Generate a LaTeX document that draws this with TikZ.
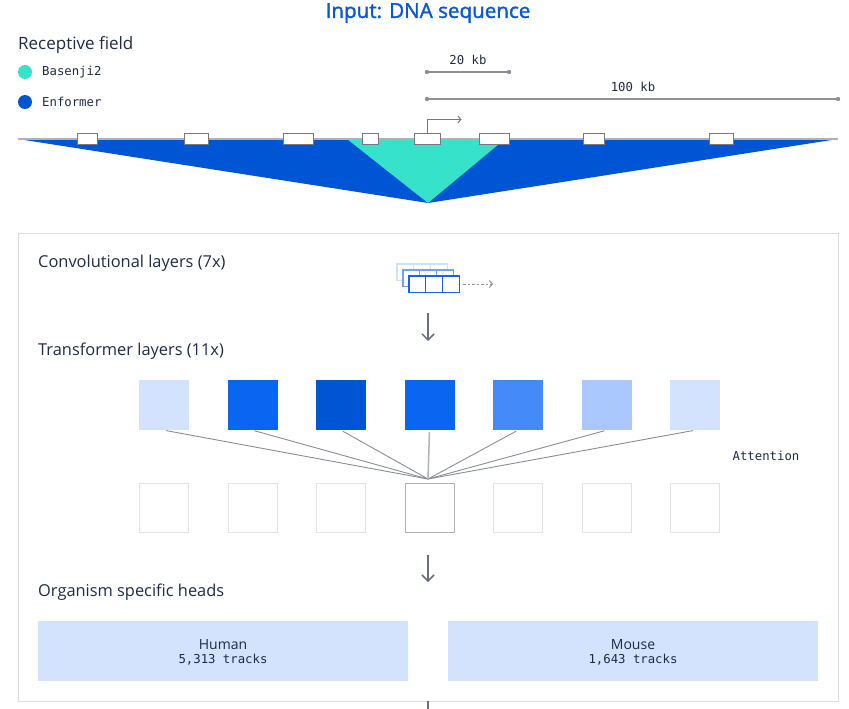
\documentclass[tikz,border=0pt]{standalone}
\usepackage{fontspec}
\setmainfont{Open Sans}
\setmonofont{DejaVu Sans Mono}
\newfontfamily\titlefont[FakeBold=1.6]{Open Sans}
\usetikzlibrary{arrows.meta}
\definecolor{navy}{HTML}{1F2A44}
\definecolor{titleblue}{HTML}{0B57D0}
\definecolor{basteal}{HTML}{36E2C9}
\definecolor{enfblue}{HTML}{0055D5}
\definecolor{sqA}{HTML}{D3E3FD}
\definecolor{sqB}{HTML}{0A66F0}
\definecolor{sqC}{HTML}{0055D5}
\definecolor{sqD}{HTML}{448AF8}
\definecolor{sqE}{HTML}{AAC8FC}
\definecolor{genegray}{HTML}{75787E}
\definecolor{basegray}{HTML}{AEB1B6}
\definecolor{bargray}{HTML}{8E9196}
\definecolor{framegray}{HTML}{DADCE0}
\definecolor{arrgray}{HTML}{6B6F76}
\definecolor{convA}{HTML}{CFE0FC}
\definecolor{convB}{HTML}{6EA2F5}
\definecolor{convC}{HTML}{1A62E0}
\definecolor{attgray}{HTML}{8A8E94}
\definecolor{attlight}{HTML}{B0B3B8}
\definecolor{emptygray}{HTML}{E2E3E6}
\begin{document}
\begin{tikzpicture}[x=1pt,y=-1pt,
  lbl/.style={font=\fontsize{16.4}{18}\selectfont, text=navy, anchor=west, inner sep=0},
  mono/.style={font=\ttfamily\fontsize{12.3}{14}\selectfont, text=navy, inner sep=0},
  gene/.style={draw=genegray, fill=white, line width=1pt, minimum height=11pt, inner sep=0},
  bar/.style={draw=bargray, line width=1.3pt},
  dot/.style={fill=bargray},
  downarr/.style={draw=arrgray, line width=1.5pt, -{Straight Barb[length=6pt,width=12pt]}},
  topsq/.style={minimum width=50pt, minimum height=50pt, inner sep=0},
  botsq/.style={draw=emptygray, line width=1pt, minimum width=49pt, minimum height=49pt, inner sep=0},
  attn/.style={draw=attgray, line width=0.9pt},
  head/.style={fill=sqA, minimum width=370pt, minimum height=60pt, inner sep=0},
  convbox/.style={fill=white, line width=1.2pt},
]
\useasboundingbox (0,0) rectangle (849,709);

% title and legend
\node[font=\titlefont\fontsize{20.6}{24}\selectfont, text=titleblue, inner sep=0] (title) at (428,13) {Input: DNA sequence};
\node[font=\fontsize{17}{19}\selectfont, text=navy, anchor=west, inner sep=0] (rf) at (18,45) {Receptive field};
\fill[basteal] (25,72) circle (7);
\fill[enfblue] (25,102) circle (7);
\node[mono, anchor=west] (lbas) at (42,72) {Basenji2};
\node[mono, anchor=west] (lenf) at (42,102) {Enformer};

% scale bars
\coordinate (s20a) at (427,72);
\coordinate (s20b) at (509,72);
\coordinate (s100a) at (427,99);
\coordinate (s100b) at (838,99);
\draw[bar] (s20a) -- (s20b);
\draw[bar] (s100a) -- (s100b);
\foreach \p in {s20a,s20b,s100a,s100b} \fill[dot] (\p) circle (2.2);
\node[mono] (l20) at (468,60) {20 kb};
\node[mono] (l100) at (633,87) {100 kb};

% receptive fields
\fill[enfblue] (18,139) -- (838,139) -- (428,203) -- cycle;
\fill[basteal] (347,139) -- (505,139) -- (428,203) -- cycle;
\draw[basegray, line width=1.5pt] (18,139) -- (838,139);

% genes
\node[gene, minimum width=20pt] (g1) at (87,138.5) {};
\node[gene, minimum width=24pt] (g2) at (196,138.5) {};
\node[gene, minimum width=30pt] (g3) at (298,138.5) {};
\node[gene, minimum width=16pt] (g4) at (370,138.5) {};
\node[gene, minimum width=26pt] (g5) at (427.5,138.5) {};
\node[gene, minimum width=30pt] (g6) at (494,138.5) {};
\node[gene, minimum width=21pt] (g7) at (593.5,138.5) {};
\node[gene, minimum width=24pt] (g8) at (721,138.5) {};
\draw[genegray, line width=1pt, -{Straight Barb[length=3pt,width=7pt]}] (g5.north) -- ++(0,-13) -- ++(34,0);

% frame
\draw[framegray, line width=1pt] (18,233) rectangle (838,701);
\coordinate (fb) at (428,701);
\coordinate (fe) at (428,709);
\draw[arrgray, line width=1.2pt] (fb) -- (fe);

% convolutional layers
\node[lbl] (lconv) at (38,263) {Convolutional layers (7x)};
\foreach \dx/\dy/\c in {397/264/convA, 403/270/convB, 409/276/convC}{
  \foreach \k in {0,1,2}{
    \draw[convbox, draw=\c] ({\dx+\k*16.7},\dy) rectangle ++(16.7,16.5);
  }
}
\coordinate (cda) at (463,284);
\coordinate (cdb) at (493,284);
\draw[bargray, line width=1pt, dash pattern=on 2.5pt off 2pt, -{Straight Barb[length=3pt,width=7pt]}] (cda) -- (cdb);
\coordinate (a1s) at (428,313);
\coordinate (a1e) at (428,341);
\draw[downarr] (a1s) -- (a1e);

% transformer layers
\node[lbl] (ltr) at (38,351) {Transformer layers (11x)};
\foreach \i/\c in {1/sqA,2/sqB,3/sqC,4/sqB,5/sqD,6/sqE,7/sqA}{
  \node[topsq, fill=\c] (t\i) at ({164+88.5*(\i-1)},405) {};
  \node[botsq] (b\i) at ({164+88.5*(\i-1)},507.5) {};
}
\node[botsq, draw=attlight] (b4x) at (b4) {};
\coordinate (att) at (428,479);
\foreach \i in {1,2,3,5,6,7} \draw[attn, shorten <=2pt] (t\i.south) -- (att);
\draw[draw=attlight, line width=1.5pt, shorten <=2pt] (t4.south) -- (att);
\node[mono] (latt) at (766,456) {Attention};
\coordinate (a2s) at (428,555);
\coordinate (a2e) at (428,582);
\draw[downarr] (a2s) -- (a2e);

% heads
\node[lbl] (lorg) at (38,592) {Organism specific heads};
\node[head] (human) at (223,651) {};
\node[head] (mouse) at (633,651) {};
\node[font=\fontsize{14}{17}\selectfont, text=navy, inner sep=0] (lhum) at (223,645) {Human};
\node[mono] (thum) at (223,660) {5,313 tracks};
\node[font=\fontsize{14}{17}\selectfont, text=navy, inner sep=0] (lmou) at (633,645) {Mouse};
\node[mono] (tmou) at (633,660) {1,643 tracks};
\end{tikzpicture}
\end{document}
